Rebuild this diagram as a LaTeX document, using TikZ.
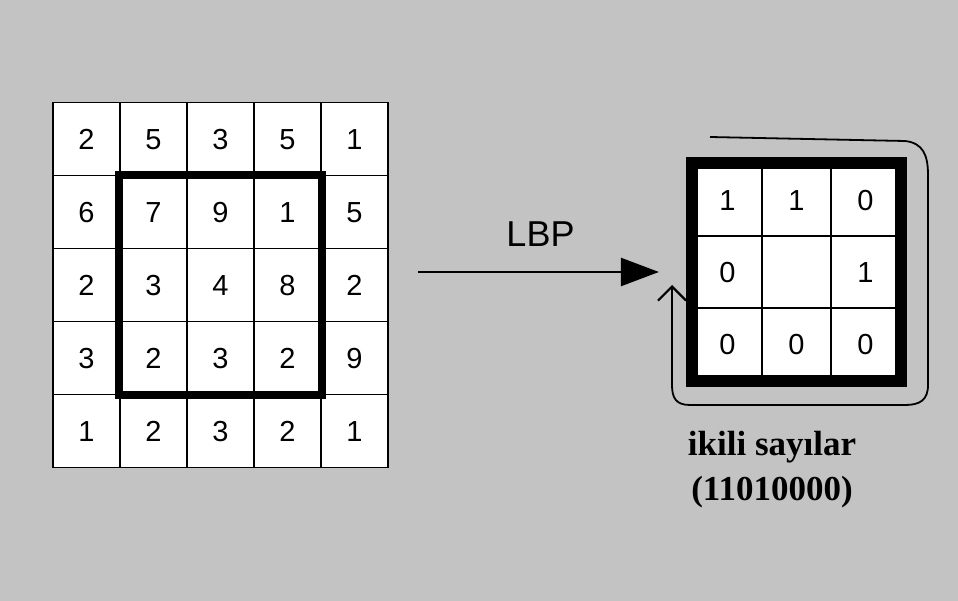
\documentclass[tikz,border=0pt]{standalone}
\usepackage{fontspec}
\setsansfont{Liberation Sans}
\setmainfont{Liberation Serif}
\usetikzlibrary{arrows.meta,matrix}

\definecolor{bggray}{RGB}{195,195,195}

\begin{document}
\begin{tikzpicture}[x=1pt,y=-1pt,
    cell/.style={draw, fill=white, line width=1.8pt, inner sep=0pt,
      anchor=center, text height=21pt, text depth=0pt,
      font=\sffamily\fontsize{29}{29}\selectfont}]
  \fill[bggray] (0,0) rectangle (958,601);

  % input image
  \matrix (m) at (220.5,285) [matrix of nodes, inner sep=0pt,
    nodes={cell, minimum width=67pt, minimum height=73pt},
    column sep=-1.8pt, row sep=-1.8pt]
  {
    2 & 5 & 3 & 5 & 1 \\
    6 & 7 & 9 & 1 & 5 \\
    2 & 3 & 4 & 8 & 2 \\
    3 & 2 & 3 & 2 & 9 \\
    1 & 2 & 3 & 2 & 1 \\
  };
  \draw[line width=8pt] (m-2-2.north west) rectangle (m-4-4.south east);

  % binary pattern
  \matrix (b) at (796.5,272) [matrix of nodes, inner sep=0pt,
    nodes={cell, minimum width=69pt, minimum height=72pt},
    nodes in empty cells,
    column sep=-1.8pt, row sep=-1.8pt]
  {
    1 & 1 & 0 \\
    0 &   & 1 \\
    0 & 0 & 0 \\
  };
  \draw[line width=12pt] (b-1-1.north west) rectangle (b-3-3.south east);

  \draw[line width=2.5pt, -{Triangle[length=38pt,width=28pt]},
    shorten <=29pt, shorten >=33pt] (m.east |- b.west) -- (b.west)
    node[midway, above=24pt, inner sep=0pt,
      font=\sffamily\fontsize{36}{36}\selectfont] (lbp) {LBP};

  % reading order
  \coordinate (loopstart) at (710,137);
  \coordinate (looptip) at (672,285);
  \draw[line width=1.8pt, line join=round,
    -{Straight Barb[length=14pt,width=28pt,line width=2.2pt]}]
    (loopstart) -- (905,141) .. controls (923,143) and (928,155) .. (928,175)
    -- (928,385) .. controls (928,400) and (920,405) .. (905,405)
    -- (690,405) .. controls (676,405) and (672,398) .. (672,385)
    -- (looptip);

  \node[font=\rmfamily\bfseries\fontsize{35}{45}\selectfont, align=center,
    anchor=north, inner sep=0pt] (caption) at (772,431)
    {ikili sayılar\\(11010000)};
\end{tikzpicture}
\end{document}
